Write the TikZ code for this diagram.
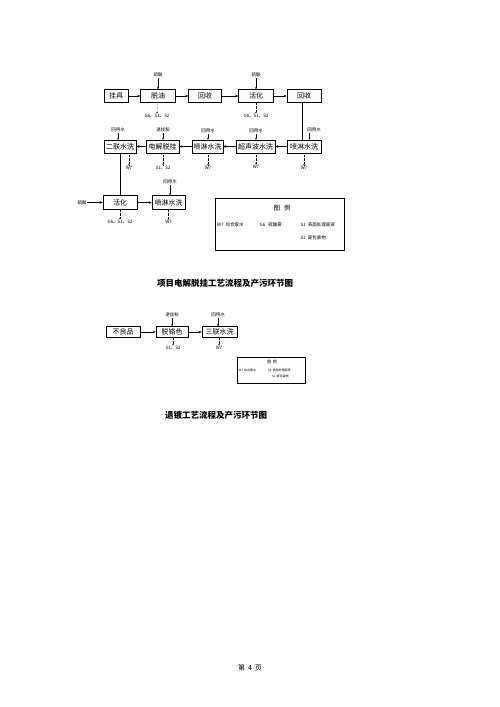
\documentclass[tikz,border=0pt]{standalone}
\usepackage{fontspec}
\setmainfont{Noto Sans CJK SC}
\usetikzlibrary{arrows.meta}
\tikzset{
  pbox/.style={draw, line width=0.6pt, minimum height=13pt, inner sep=1pt, font=\fontsize{7}{8}\selectfont},
  lbl/.style={inner sep=0.5pt, font=\fontsize{4.5}{5}\selectfont},
  flow/.style={line width=0.5pt, -{Stealth[length=3pt,width=2.5pt]}},
  feed/.style={line width=0.5pt, -{Stealth[length=2pt,width=2pt]}},
  emit/.style={line width=0.4pt, densely dotted, -{Stealth[length=1.5pt,width=1.5pt]}},
  plain/.style={line width=0.5pt},
  ttl/.style={font=\fontsize{8.5}{9}\selectfont\bfseries},
}
\begin{document}
\begin{tikzpicture}[x=1pt,y=-1pt]
\useasboundingbox (0,0) rectangle (500,707);
% row 1
\node[pbox, minimum width=24pt] (a1) at (116,96) {挂具};
\node[pbox, minimum width=35pt] (a2) at (158,96) {脱油};
\node[pbox, minimum width=33pt] (a3) at (205,96) {回收};
\node[pbox, minimum width=35pt] (a4) at (256,96) {活化};
\node[pbox, minimum width=34pt] (a5) at (304,96) {回收};
\draw[flow] (a1) -- (a2);
\draw[flow] (a2) -- (a3);
\draw[flow] (a3) -- (a4);
\draw[flow] (a4) -- (a5);
\node[lbl] (a2in) at (158,75) {硫酸};
\node[lbl] (a4in) at (256,75) {硫酸};
\draw[feed] (a2in) -- (a2);
\draw[feed] (a4in) -- (a4);
\node[lbl] (a2out) at (157,116) {G6、S1、S2};
\node[lbl] (a4out) at (256,116) {G6、S1、S2};
\draw[emit] (a2.south) -- (a2out.north);
\draw[emit] (a4.south) -- (a4out.north);
% row 2
\node[pbox, minimum width=32pt] (b1) at (120,146.5) {二联水洗};
\node[pbox, minimum width=33pt] (b2) at (162.5,146.5) {电解脱挂};
\node[pbox, minimum width=31pt] (b3) at (207.5,146.5) {喷淋水洗};
\node[pbox, minimum width=39pt] (b4) at (255.5,146.5) {超声波水洗};
\node[pbox, minimum width=34pt] (b5) at (304,146.5) {喷淋水洗};
\draw[flow] (b5) -- (b4);
\draw[flow] (b4) -- (b3);
\draw[flow] (b3) -- (b2);
\draw[flow] (b2) -- (b1);
\coordinate (a5b) at (302,102.5);
\coordinate (b5t) at (302,140);
\draw[plain] (a5b) -- (b5t);
\node[lbl] (b1in) at (118,130) {回用水};
\node[lbl] (b2in) at (163,130) {退挂粉};
\node[lbl] (b3in) at (208,131) {回用水};
\node[lbl] (b4in) at (256,131) {回用水};
\node[lbl] (b5in) at (314,130) {回用水};
\draw[feed] (b1in) -- (b1in |- b1.north);
\draw[feed] (b2in) -- (b2in |- b2.north);
\draw[feed] (b3in) -- (b3in |- b3.north);
\draw[feed] (b4in) -- (b4in |- b4.north);
\coordinate (b5inb) at (309.5,133);
\draw[feed] (b5inb) -- (b5inb |- b5.north);
\node[lbl] (b1out) at (129,168) {W7};
\node[lbl] (b2out) at (163,168) {S1、S2};
\node[lbl] (b3out) at (208,168) {W7};
\node[lbl] (b4out) at (256,167) {W7};
\node[lbl] (b5out) at (304,168) {W7};
\draw[emit] (b1out |- b1.south) -- (b1out.north);
\draw[emit] (b2out |- b2.south) -- (b2out.north);
\draw[emit] (b3out |- b3.south) -- (b3out.north);
\draw[emit] (b4out |- b4.south) -- (b4out.north);
\draw[emit] (b5out |- b5.south) -- (b5out.north);
% row 3
\node[pbox, minimum width=34pt, minimum height=14pt] (c1) at (120,202.5) {活化};
\node[pbox, minimum width=33pt, minimum height=14pt] (c2) at (168.5,202.5) {喷淋水洗};
\coordinate (b1b) at (120,153);
\draw[plain] (b1b) -- (c1.north);
\draw[flow] (c1) -- (c2);
\node[lbl] (c1in) at (82,202.5) {硫酸};
\draw[flow] (c1in) -- (c1);
\node[lbl] (c2in) at (170,182) {回用水};
\draw[feed] (c2in) -- (c2in |- c2.north);
\node[lbl] (c1out) at (120,222) {G6、S1、S2};
\node[lbl] (c2out) at (168.5,222) {W7};
\draw[emit] (c1.south) -- (c1out.north);
\draw[emit] (c2.south) -- (c2out.north);
% legend 1
\node[draw, line width=0.6pt, minimum width=129pt, minimum height=52pt, inner sep=0pt] (leg1) at (279.5,224) {};
\node[font=\fontsize{6.5}{7}\selectfont, inner sep=0pt] (leg1t) at (282,208) {图\hspace{4pt}例};
\node[lbl, anchor=west] (l1) at (216.5,225) {W7\hspace{2pt}综合废水};
\node[lbl, anchor=west] (l2) at (259,225) {G6\hspace{3pt}硫酸雾};
\node[lbl, anchor=west] (l3) at (300,225) {S1\hspace{2pt}表面处理废液};
\node[lbl, anchor=west] (l4) at (300,238) {S2\hspace{2pt}废包装物};
% title 1
\node[ttl] (t1) at (225,283) {项目电解脱挂工艺流程及产污环节图};
% diagram 2
\node[pbox, minimum width=34pt, minimum height=11pt] (d1) at (123,332) {不良品};
\node[pbox, minimum width=32pt, minimum height=11pt] (d2) at (172,332) {脱铬色};
\node[pbox, minimum width=35pt, minimum height=11pt] (d3) at (219.5,332) {三联水洗};
\draw[flow] (d1) -- (d2);
\draw[flow] (d2) -- (d3);
\node[lbl] (d2in) at (172,315) {退挂粉};
\node[lbl] (d3in) at (218,315) {回用水};
\draw[feed] (d2in) -- (d2);
\draw[feed] (d3in) -- (d3in |- d3.north);
\node[lbl] (d2out) at (173,348) {S1、S2};
\node[lbl] (d3out) at (219,348) {W7};
\draw[emit] (d2out |- d2.south) -- (d2out.north);
\draw[emit] (d3out |- d3.south) -- (d3out.north);
% legend 2
\node[draw, line width=0.5pt, minimum width=68pt, minimum height=26pt, inner sep=0pt] (leg2) at (271,370) {};
\node[font=\fontsize{4}{4.5}\selectfont, inner sep=0pt] (leg2t) at (272,362) {图\hspace{2pt}例};
\node[font=\fontsize{3}{3.5}\selectfont, inner sep=0pt, anchor=west] (m1) at (238.5,370.5) {W7\hspace{1pt}综合废水};
\node[font=\fontsize{3}{3.5}\selectfont, inner sep=0pt, anchor=west] (m2) at (268,370.5) {S1\hspace{1pt}表面处理废液};
\node[font=\fontsize{3}{3.5}\selectfont, inner sep=0pt, anchor=west] (m3) at (272,376.5) {S2\hspace{1pt}废包装物};
% title 2
\node[ttl] (t2) at (216,415) {退镀工艺流程及产污环节图};
% footer
\node[font=\fontsize{7}{8}\selectfont] (pg) at (250,668) {第\hspace{3pt}4\hspace{3pt}页};
\end{tikzpicture}
\end{document}
